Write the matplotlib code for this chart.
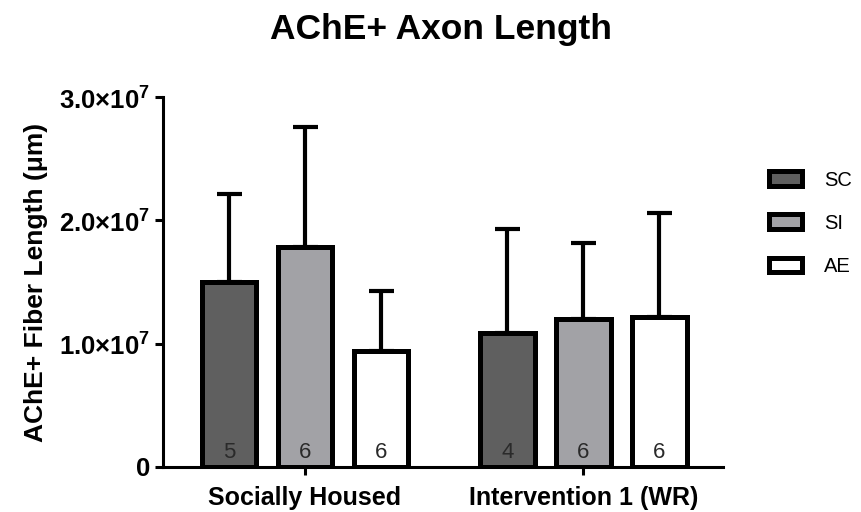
import matplotlib
matplotlib.use("Agg")
import matplotlib.pyplot as plt
import numpy as np

plt.rcParams['font.family'] = ['Liberation Sans', 'DejaVu Sans']
plt.rcParams['mathtext.fontset'] = 'custom'
plt.rcParams['mathtext.rm'] = 'Liberation Sans:bold'
plt.rcParams['mathtext.bf'] = 'Liberation Sans:bold'

groups = ["Socially Housed", "Intervention 1 (WR)"]
series = ["SC", "SI", "AE"]
means = {
    "SC": [1.50e7, 1.09e7],
    "SI": [1.78e7, 1.20e7],
    "AE": [0.94e7, 1.22e7],
}
errs = {
    "SC": [0.71e7, 0.84e7],
    "SI": [0.98e7, 0.62e7],
    "AE": [0.49e7, 0.84e7],
}
counts = {
    "SC": [5, 4],
    "SI": [6, 6],
    "AE": [6, 6],
}
colors = {"SC": "#5f5f5f", "SI": "#a2a2a6", "AE": "#ffffff"}
yticks = [0, 1e7, 2e7, 3e7]
yticklabels = ["0", r"1.0×10$^{\mathrm{7}}$", r"2.0×10$^{\mathrm{7}}$", r"3.0×10$^{\mathrm{7}}$"]

fig = plt.figure(figsize=(8.61, 5.12), dpi=100)
ax = fig.add_axes([0.189, 0.088, 0.651, 0.7225])

group_x = np.array([1.0, 4.66])
bar_w = 0.72
for i, s in enumerate(series):
    x = group_x + (i - 1)
    ax.bar(x, means[s], width=bar_w, color=colors[s], edgecolor="black",
           linewidth=3.6, label=s, zorder=3)
    ax.errorbar(x, means[s], yerr=[np.zeros(2), errs[s]], fmt="none",
                ecolor="black", elinewidth=3, capsize=9, capthick=3, zorder=2)
    for xi, n in zip(x, counts[s]):
        ax.text(xi, 0.03e7, str(n), ha="center", va="bottom", fontsize=16,
                color="#2a2a2a", zorder=4)

ax.set_xlim(-0.87, 6.5)
ax.set_ylim(0, 3e7)
ax.set_yticks(yticks)
ax.set_yticklabels(yticklabels, fontsize=18.5, fontweight="bold")
ax.set_xticks(group_x)
ax.set_xticklabels(groups, fontsize=18, fontweight="bold")
ax.tick_params(axis="both", direction="out", length=6, width=2.2)
ax.tick_params(axis="y", pad=3)
ax.tick_params(axis="x", pad=8)
for side in ["top", "right"]:
    ax.spines[side].set_visible(False)
for side in ["left", "bottom"]:
    ax.spines[side].set_linewidth(2.2)

ax.set_ylabel("AChE+ Fiber Length (μm)", fontsize=19, fontweight="bold", labelpad=8)
fig.suptitle("AChE+ Axon Length", fontsize=25.5, fontweight="bold", x=0.512, y=0.975)

ax.legend(loc="upper left", bbox_to_anchor=(1.05, 0.85), frameon=False,
          fontsize=14.5, handlelength=1.6, handleheight=0.75, labelspacing=1.2,
          handletextpad=1.1)

fig.savefig("out.png", dpi=100)
